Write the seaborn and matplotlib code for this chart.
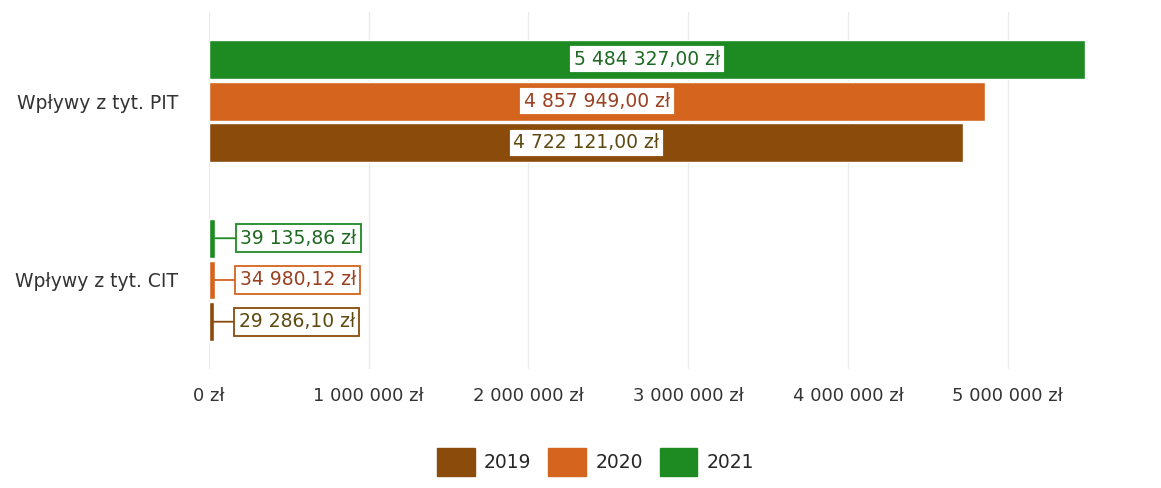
import pandas as pd
import matplotlib.pyplot as plt
import seaborn as sns

# Data
categories = ["Wpływy z tyt. PIT", "Wpływy z tyt. CIT"]
years = ["2019", "2020", "2021"]
pit_values = [4722121.00, 4857949.00, 5484327.00]
cit_values = [29286.10, 34980.12, 39135.86]
x_ticks = [0, 1000000, 2000000, 3000000, 4000000, 5000000]

colors = {"2019": "#8a4b0b", "2020": "#d5641e", "2021": "#1e8a22"}
text_colors = {"2019": "#5e4a10", "2020": "#9a4020", "2021": "#1f6a22"}


def pl_money(v, decimals=2):
    s = f"{v:,.{decimals}f}"
    s = s.replace(",", " ").replace(".", ",")
    return s + " zł"


def build_frame():
    rows = []
    for y, p, c in zip(years, pit_values, cit_values):
        rows.append({"kategoria": categories[0], "rok": y, "wartosc": p})
        rows.append({"kategoria": categories[1], "rok": y, "wartosc": c})
    return pd.DataFrame(rows)


def main():
    df = build_frame()
    sns.set_style("white")
    plt.rcParams["font.family"] = ["DejaVu Sans"]

    fig = plt.figure(figsize=(11.61, 4.88), dpi=100)
    ax = fig.add_axes([0.18, 0.243, 0.82, 0.733])

    hue_order = ["2021", "2020", "2019"]
    sns.barplot(data=df, y="kategoria", x="wartosc", hue="rok", order=categories,
                hue_order=hue_order, palette=colors, orient="h", width=0.7,
                gap=0.07, ax=ax, legend=False, saturation=1)

    # value labels
    for cont, yr in zip(ax.containers, hue_order):
        for bar in cont:
            val = bar.get_width()
            yc = bar.get_y() + bar.get_height() / 2
            box = dict(boxstyle="square,pad=0.24", fc="white", ec=colors[yr], lw=1.3)
            if val > 1e6:
                ax.text(val / 2, yc, pl_money(val), ha="center", va="center",
                        fontsize=13.5, color=text_colors[yr], bbox=box)
            else:
                ax.annotate(pl_money(val), xy=(val, yc), xytext=(18, 0),
                            textcoords="offset points", ha="left", va="center",
                            fontsize=13.5, color=text_colors[yr], bbox=box,
                            arrowprops=dict(arrowstyle="-", color=colors[yr], lw=1.3,
                                            shrinkA=0, shrinkB=0))

    ax.set_xlim(0, 5.96e6)
    ax.set_ylim(1.5, -0.5)
    ax.set_xticks(x_ticks)
    ax.set_xticklabels([pl_money(t, 0) for t in x_ticks], fontsize=13, color="#333333")
    ax.tick_params(axis="x", pad=13, length=0)
    ax.tick_params(axis="y", pad=22, length=0, labelsize=13.5, labelcolor="#333333")
    ax.grid(axis="x", color="#ebebeb", lw=1)
    ax.set_axisbelow(True)
    ax.set_xlabel("")
    ax.set_ylabel("")
    sns.despine(ax=ax, left=True, bottom=True)

    handles = [plt.Rectangle((0, 0), 1, 1, color=colors[y]) for y in years]
    fig.legend(handles, years, loc="center", bbox_to_anchor=(0.513, 0.053), ncol=3,
               frameon=False, fontsize=13.5, handlelength=2.0, handleheight=1.9,
               columnspacing=0.9, handletextpad=0.5)

    fig.savefig("out.png", dpi=100)


if __name__ == "__main__":
    main()
